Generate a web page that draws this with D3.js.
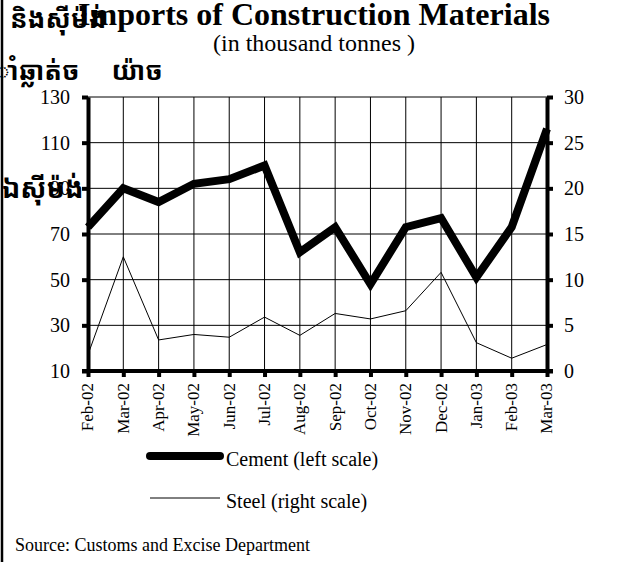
<!DOCTYPE html>
<html>
<head>
<meta charset="utf-8">
<script src="https://cdn.jsdelivr.net/npm/d3@7"></script>
<style>
  body { margin: 0; background: #fff; }
  svg text { font-family: "Liberation Serif", "Times New Roman", serif; fill: #000; }
  .khmer { font-family: "Noto Sans Khmer", "Khmer OS", "DejaVu Sans", sans-serif; font-weight: bold; }
</style>
</head>
<body>
<div id="chart"></div>
<script>
var months = ["Feb-02","Mar-02","Apr-02","May-02","Jun-02","Jul-02","Aug-02",
              "Sep-02","Oct-02","Nov-02","Dec-02","Jan-03","Feb-03","Mar-03"];
var cement = [73, 90, 84, 92, 94, 100, 62, 73, 48, 73, 77, 51, 73, 116];
var steel = [1.8, 12.5, 3.4, 4.0, 3.7, 5.9, 3.9, 6.3, 5.7, 6.6, 10.8, 3.1, 1.4, 2.9];
var leftTicks = [10, 30, 50, 70, 90, 110, 130];
var rightTicks = [0, 5, 10, 15, 20, 25, 30];

var W = 620, H = 562;
var margin = {top: 97, right: 73, bottom: 191, left: 88};

var svg = d3.select("#chart").append("svg")
    .attr("width", W)
    .attr("height", H);

// left border of the frame
svg.append("line")
    .attr("x1", 2).attr("x2", 2)
    .attr("y1", 0).attr("y2", H)
    .attr("stroke", "#000")
    .attr("stroke-width", 2.5);

var x = d3.scalePoint().domain(months).range([margin.left, W - margin.right]);
var yL = d3.scaleLinear().domain([10, 130]).range([H - margin.bottom, margin.top]);
var yR = d3.scaleLinear().domain([0, 30]).range([H - margin.bottom, margin.top]);

// grid
var grid = svg.append("g");
grid.selectAll(".hg").data(leftTicks).enter().append("line")
    .attr("x1", margin.left).attr("x2", W - margin.right)
    .attr("y1", function(d){ return yL(d); })
    .attr("y2", function(d){ return yL(d); })
    .attr("stroke", "#000").attr("stroke-width", 1);
grid.selectAll(".vg").data(months).enter().append("line")
    .attr("x1", function(d){ return x(d); })
    .attr("x2", function(d){ return x(d); })
    .attr("y1", margin.top).attr("y2", H - margin.bottom)
    .attr("stroke", "#000").attr("stroke-width", 1);

// steel (right scale)
var lineR = d3.line()
    .x(function(d, i){ return x(months[i]); })
    .y(function(d){ return yR(d); });
svg.append("path")
    .datum(steel)
    .attr("d", lineR)
    .attr("fill", "none")
    .attr("stroke", "#000")
    .attr("stroke-width", 1);

// cement (left scale)
var lineL = d3.line()
    .x(function(d, i){ return x(months[i]); })
    .y(function(d){ return yL(d); });
svg.append("path")
    .datum(cement)
    .attr("d", lineL)
    .attr("fill", "none")
    .attr("stroke", "#000")
    .attr("stroke-width", 8)
    .attr("stroke-linejoin", "miter");

function styleAxis(g) {
    g.select(".domain").attr("stroke-width", 4);
    g.selectAll(".tick line").attr("stroke-width", 4);
    g.selectAll(".tick text")
        .style("font-family", "Liberation Serif")
        .attr("fill", "#000");
}

var axL = svg.append("g")
    .attr("transform", "translate(" + margin.left + ",0)")
    .call(d3.axisLeft(yL).tickValues(leftTicks).tickSize(6).tickSizeOuter(0).tickPadding(12))
    .call(styleAxis);
axL.selectAll(".tick text").style("font-size", "20px");

var axR = svg.append("g")
    .attr("transform", "translate(" + (W - margin.right) + ",0)")
    .call(d3.axisRight(yR).tickValues(rightTicks).tickSize(6).tickSizeOuter(0).tickPadding(11))
    .call(styleAxis);
axR.selectAll(".tick text").style("font-size", "20px");

var axB = svg.append("g")
    .attr("transform", "translate(0," + (H - margin.bottom) + ")")
    .call(d3.axisBottom(x).tickSize(6).tickSizeOuter(0))
    .call(styleAxis);
axB.select(".domain").attr("d", "M" + (margin.left - 6) + ",0H" + (W - margin.right + 6));
axB.selectAll(".tick text")
    .style("font-size", "17px")
    .attr("transform", "rotate(-90)")
    .attr("x", -12)
    .attr("y", -1)
    .attr("dy", "0.35em")
    .style("text-anchor", "end");

// Khmer fragments left over from the original layout
svg.append("text").attr("class", "khmer")
    .attr("x", 10).attr("y", 28)
    .style("font-size", "26px")
    .text("និងស៊ីម៉ង់");
svg.append("text").attr("class", "khmer")
    .attr("x", -6).attr("y", 80)
    .style("font-size", "26px")
    .text("ាំឆ្លាត់ច");
svg.append("text").attr("class", "khmer")
    .attr("x", 112).attr("y", 80)
    .style("font-size", "26px")
    .text("យ៉ាច");
svg.append("text").attr("class", "khmer")
    .attr("x", 2).attr("y", 198)
    .style("font-size", "27px")
    .text("ឯស៊ីម៉ង់");

// titles
svg.append("text")
    .attr("x", 314).attr("y", 25)
    .attr("text-anchor", "middle")
    .style("font-size", "32px")
    .style("font-weight", "bold")
    .text("Imports of Construction Materials");
svg.append("text")
    .attr("x", 314).attr("y", 51)
    .attr("text-anchor", "middle")
    .style("font-size", "24px")
    .text("(in thousand tonnes )");

// legend
var legend = [
    {name: "Cement (left scale)", w: 8, y: 456},
    {name: "Steel (right scale)", w: 1, y: 498}
];
var lg = svg.selectAll(".legend").data(legend).enter().append("g");
lg.append("line")
    .attr("x1", 150).attr("x2", 220)
    .attr("y1", function(d){ return d.y; })
    .attr("y2", function(d){ return d.y; })
    .attr("stroke", "#000")
    .attr("stroke-width", function(d){ return d.w; })
    .attr("stroke-linecap", function(d){ return d.w > 1 ? "round" : "butt"; });
lg.append("text")
    .attr("x", 226)
    .attr("y", function(d){ return d.y + 10; })
    .style("font-size", "20px")
    .text(function(d){ return d.name; });

svg.append("text")
    .attr("x", 15).attr("y", 551)
    .style("font-size", "18px")
    .text("Source: Customs and Excise Department");
</script>
</body>
</html>
